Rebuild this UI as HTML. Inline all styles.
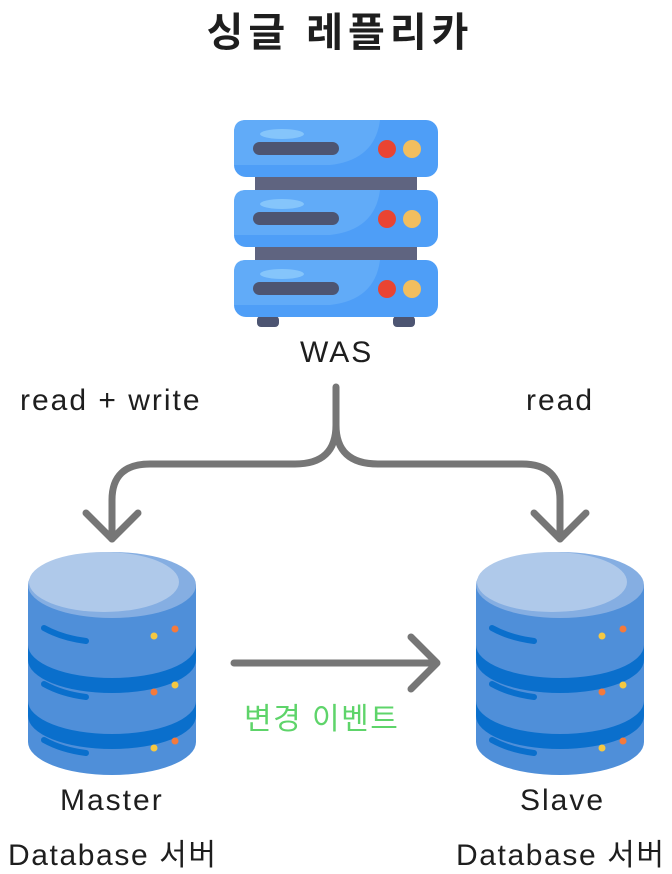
<!DOCTYPE html>
<html><head><meta charset="utf-8"><style>
body{margin:0;width:672px;height:863px;background:#fff;overflow:hidden;position:relative;font-family:"Liberation Sans","Noto Sans CJK KR",sans-serif;color:#1e1e1e}
.t{position:absolute;white-space:nowrap;font-size:30px;letter-spacing:2px}
</style></head><body>
<svg width="672" height="863" style="position:absolute;left:0;top:0">
<defs>
<g id="db">
<path d="M-84,0 V157 A84,33 0 0 0 84,157 V0 Z" fill="#4f8fd9"/>
<path d="M-84,60 A84,33 0 0 0 84,60 V75 A84,33 0 0 1 -84,75 Z" fill="#0a6fcc"/>
<path d="M-84,116 A84,33 0 0 0 84,116 V131 A84,33 0 0 1 -84,131 Z" fill="#0a6fcc"/>
<ellipse cx="0" cy="0" rx="84" ry="33" fill="#85aee2"/>
<ellipse cx="-8" cy="-3" rx="75" ry="30" fill="#afc9ea"/>
<g stroke="#0a6fcc" stroke-width="6" stroke-linecap="round" fill="none">
<path d="M-68,43 Q-50,53 -26,56"/><path d="M-68,99 Q-50,109 -26,112"/><path d="M-68,155 Q-50,165 -26,168"/></g>
<circle cx="42" cy="51" r="3.5" fill="#f5c842"/><circle cx="63" cy="44" r="3.5" fill="#f47a3c"/>
<circle cx="42" cy="107" r="3.5" fill="#f47a3c"/><circle cx="63" cy="100" r="3.5" fill="#f5c842"/>
<circle cx="42" cy="163" r="3.5" fill="#f5c842"/><circle cx="63" cy="156" r="3.5" fill="#f47a3c"/>
</g>
<g id="unit">
<rect x="234" y="0" width="204" height="57" rx="12" fill="#4e9ef7"/>
<path d="M246,0 H380 Q375,40 330,45 H234 V12 Q234,0 246,0Z" fill="#61abf8"/>
<ellipse cx="282" cy="14" rx="22" ry="5" fill="#85c5fb"/>
<rect x="253" y="22" width="86" height="13" rx="6.5" fill="#4d5572"/>
<circle cx="387" cy="29" r="9" fill="#e94432"/><circle cx="412" cy="29" r="9" fill="#f2be5e"/>
</g>
</defs>
<rect x="255" y="170" width="162" height="100" fill="#5f6480"/>
<rect x="257" y="316" width="22" height="11" rx="4" fill="#4d5572"/>
<rect x="393" y="316" width="22" height="11" rx="4" fill="#4d5572"/>
<use href="#unit" y="120"/><use href="#unit" y="190"/><use href="#unit" y="260"/>
<use href="#db" x="112" y="585"/><use href="#db" x="560" y="585"/>
<g stroke="#767676" stroke-width="7" fill="none" stroke-linecap="round" stroke-linejoin="round">
<path d="M336,387 V425 Q336,464 295,464 H150 Q112,464 112,500 V539"/>
<path d="M336,425 Q336,464 378,464 H522 Q560,464 560,500 V539"/>
<path d="M86,513 L112,539 L138,513"/><path d="M534,513 L560,539 L586,513"/>
<path d="M234,663 H435"/><path d="M411,637 L437,663 L411,689"/>
</g>
</svg>
<div class="t" style="left:0;width:672px;text-align:center;top:0px;font-size:40px;font-weight:bold;letter-spacing:5px;text-indent:8px">싱글 레플리카</div>
<div class="t" style="left:300px;top:336px">WAS</div>
<div class="t" style="left:20px;top:384px">read + write</div>
<div class="t" style="left:526px;top:384px">read</div>
<div class="t" style="left:244px;top:694px;color:#5ed46a;letter-spacing:1.5px">변경 이벤트</div>
<div class="t" style="left:60px;top:784px">Master</div>
<div class="t" style="left:8px;top:830px;letter-spacing:1.6px">Database 서버</div>
<div class="t" style="left:520px;top:784px">Slave</div>
<div class="t" style="left:456px;top:830px;letter-spacing:1.6px">Database 서버</div>
</body></html>
